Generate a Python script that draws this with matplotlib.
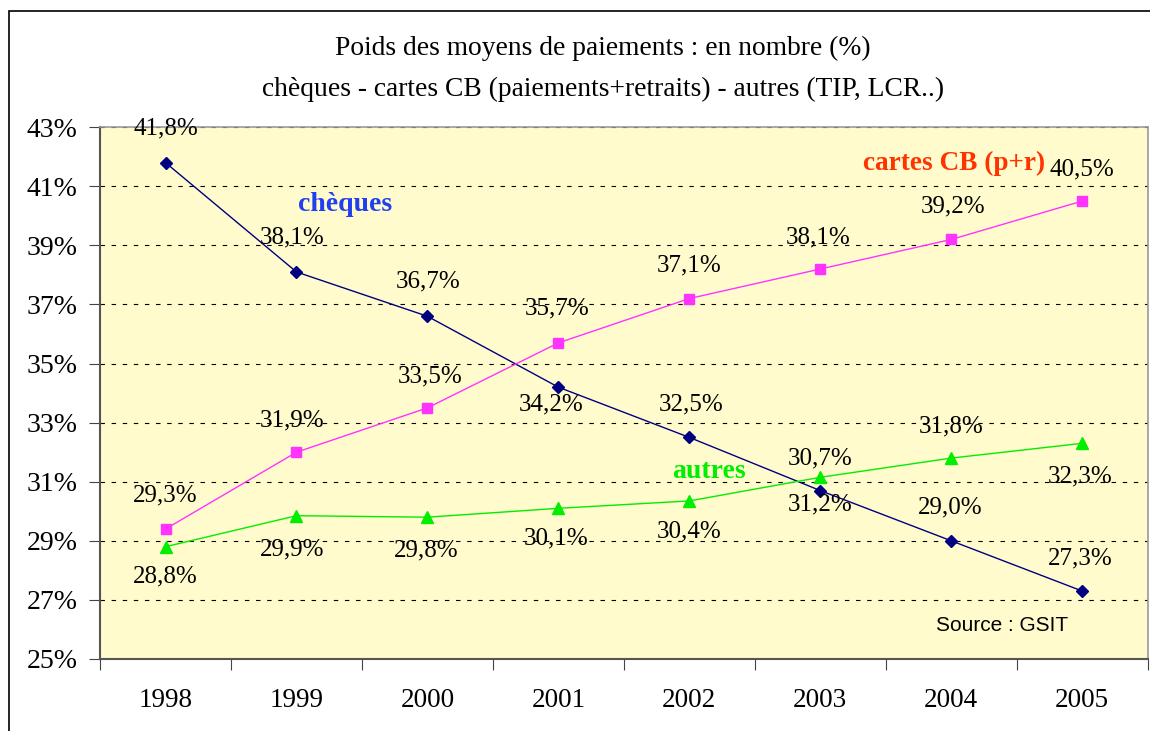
import matplotlib.pyplot as plt
from matplotlib.patches import Rectangle

# data
years = ['1998', '1999', '2000', '2001', '2002', '2003', '2004', '2005']
cheques = [41.8, 38.1, 36.6, 34.2, 32.5, 30.7, 29.0, 27.3]
cartes = [29.4, 32.0, 33.5, 35.7, 37.2, 38.2, 39.2, 40.5]
autres = [28.8, 29.85, 29.8, 30.1, 30.35, 31.15, 31.8, 32.3]

cheques_lbl = ['41,8%', '38,1%', '36,7%', '34,2%', '32,5%', '31,2%', '29,0%', '27,3%']
cartes_lbl = ['29,3%', '31,9%', '33,5%', '35,7%', '37,1%', '38,1%', '39,2%', '40,5%']
autres_lbl = ['28,8%', '29,9%', '29,8%', '30,1%', '30,4%', '30,7%', '31,8%', '32,3%']

yticks = [25, 27, 29, 31, 33, 35, 37, 39, 41, 43]

# label offsets in pixels (dx, dy), as placed in the original
cheques_off = [(0, 34), (-4, 35), (1, 35), (-7, -17), (2, 33), (0, -14), (-1, 33), (-2, 33)]
cartes_off = [(0, 34), (-4, 32), (3, 31), (-1, 34), (0, 33), (-2, 32), (2, 33), (0, 32)]
autres_off = [(0, -30), (-4, -34), (-1, -33), (-2, -30), (0, -31), (0, 19), (0, 32), (-2, -33)]

serif = ['Liberation Serif', 'DejaVu Serif']

fig = plt.figure(figsize=(11.5, 7.31), dpi=100)
fig.patches.append(Rectangle((9 / 1150, -0.1), 1.2, 1 - 11 / 731 + 0.1,
                             transform=fig.transFigure, fill=False,
                             edgecolor='black', linewidth=1.2))

ax = fig.add_axes([0.087, 0.0985, 0.911, 0.7275])
ax.set_facecolor('#FFFBCC')
xs = list(range(len(years)))

ax.plot(xs, cheques, '-D', color='#000080', lw=1.0, ms=6.5, zorder=3)
ax.plot(xs, cartes, '-s', color='#FF33FF', lw=1.0, ms=7, zorder=3)
ax.plot(xs, autres, '-^', color='#00EE00', lw=1.0, ms=8.5, zorder=3)

for vals, lbls, offs in [(cheques, cheques_lbl, cheques_off),
                         (cartes, cartes_lbl, cartes_off),
                         (autres, autres_lbl, autres_off)]:
    for x, v, t, o in zip(xs, vals, lbls, offs):
        ax.annotate(t, (x, v), xytext=o, textcoords='offset pixels',
                    ha='center', va='center', fontsize=18, family=serif,
                    zorder=4)

ax.text(1.37, 40.4, 'chèques', color='#2040F0', fontsize=20,
        fontweight='bold', family=serif, ha='center', va='center')
ax.text(6.02, 41.78, 'cartes CB (p+r)', color='#FF3300', fontsize=19.6,
        fontweight='bold', family=serif, ha='center', va='center')
ax.text(4.15, 31.36, 'autres', color='#00EE00', fontsize=20,
        fontweight='bold', family=serif, ha='center', va='center')
ax.text(6.39, 26.12, 'Source : GSIT', fontsize=15,
        family=['Liberation Sans', 'DejaVu Sans'], ha='center', va='center')

ax.set_xlim(-0.5, 7.5)
ax.set_ylim(25, 43)

# tick marks between categories, labels at category centres
ax.set_xticks([i - 0.5 for i in range(len(years) + 1)])
ax.set_xticklabels([])
ax.set_xticks(xs, minor=True)
ax.set_xticklabels(years, minor=True, fontsize=19.5, family=serif)
ax.tick_params(axis='x', which='major', length=8, direction='out', color='#444444')
ax.tick_params(axis='x', which='minor', length=0, pad=21)

ax.set_yticks(yticks)
ax.set_yticklabels([f'{t}%' for t in yticks], fontsize=20, family=serif)
ax.tick_params(axis='y', length=8, direction='out', pad=8, color='#444444')

for t in yticks[1:]:
    ax.axhline(t, color='black', lw=0.8, ls=(0, (4, 6)), zorder=1)

for s in ['left', 'bottom']:
    ax.spines[s].set_color('#555555')
    ax.spines[s].set_linewidth(1.5)
for s in ['top', 'right']:
    ax.spines[s].set_color('#999999')
    ax.spines[s].set_linewidth(1.2)

fig.text(0.524, 1 - 48 / 731, 'Poids des moyens de paiements : en nombre (%)',
         ha='center', va='center', fontsize=19.8, family=serif)
fig.text(0.524, 1 - 89 / 731,
         'chèques - cartes CB (paiements+retraits) - autres (TIP, LCR..)',
         ha='center', va='center', fontsize=19.8, family=serif)

fig.savefig('out.png', dpi=100)
